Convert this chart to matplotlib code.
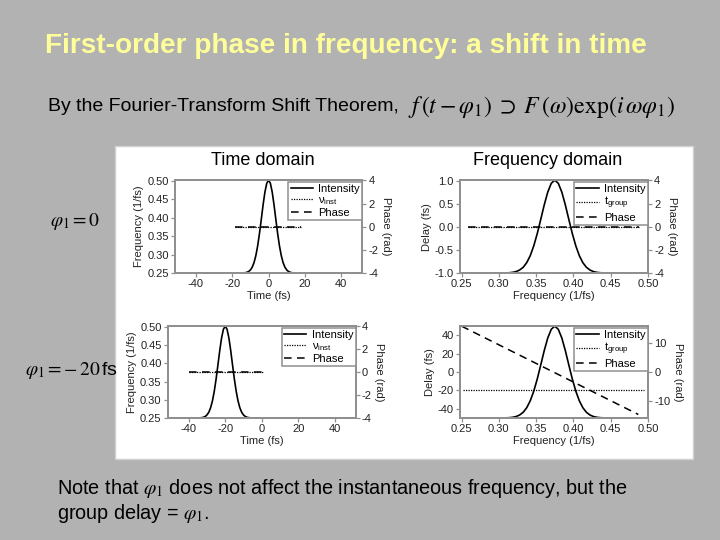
import numpy as np
import matplotlib.pyplot as plt
from matplotlib.patches import Rectangle
from matplotlib.lines import Line2D

plt.rcParams['font.family'] = ['Liberation Sans', 'DejaVu Sans']
plt.rcParams['mathtext.fontset'] = 'custom'
plt.rcParams['mathtext.rm'] = 'Liberation Sans'
plt.rcParams['mathtext.it'] = 'Liberation Sans:italic'
plt.rcParams['axes.unicode_minus'] = False

shape_offsets = list(range(-16, 17))
half_shape = [0.0001, 0.0004, 0.0011, 0.003, 0.0072, 0.016, 0.033, 0.0625,
              0.112, 0.187, 0.292, 0.425, 0.578, 0.735, 0.872, 0.966]
pulse_shape = half_shape + [1.0] + half_shape[::-1]

# first-order phase (group delay) for each row, fs
phi1 = [0, -20]
time_step = 1.0          # fs per shape unit
spec_center = 0.375      # 1/fs
spec_step = 0.0047       # 1/fs per shape unit

# time domain flat lines (v_inst at 0.375, phase at 0)
tline_x = [[-18.5, 18.0], [-40.0, 0.8]]
vinst = 0.375
# frequency domain lines
fline_x = [[0.258, 0.488], [0.252, 0.494]]
tgroup = [0, -20]
phase_x = [[0.258, 0.488], [0.25, 0.487]]
phase_y = [[0, 0], [15.7, -14.6]]

bg = '#b2b2b2'
fig = plt.figure(figsize=(7.2, 5.4), dpi=100, facecolor=bg)

fig.text(0.0625, 0.915, 'First-order phase in frequency: a shift in time',
         color='#ffff99', fontsize=20.1, fontweight='bold', va='center')
fig.text(0.066, 0.802, 'By the Fourier-Transform Shift Theorem,',
         fontsize=14, va='center')
fig.text(0.566, 0.802,
         r'$f\,(t-\varphi_1)\;\supset\;F\,(\omega)\mathrm{exp}(i\,\omega\varphi_1)$',
         fontsize=17.2, va='center', math_fontfamily='stix')
fig.text(0.07, 0.589, r'$\varphi_1 = 0$', fontsize=14, va='center',
         math_fontfamily='stix')
fig.text(0.035, 0.314, r'$\varphi_1 = -\,20\,$fs', fontsize=14, va='center',
         math_fontfamily='stix')
fig.text(0.079, 0.096,
         r'Note that $\varphi_1$ does not affect the instantaneous frequency, but the',
         fontsize=14.3, va='center', math_fontfamily='stix')
fig.text(0.079, 0.049, r'group delay = $\varphi_1$.', fontsize=14.3, va='center',
         math_fontfamily='stix')

fig.patches.append(Rectangle((0.1597, 0.15), 0.803, 0.58, transform=fig.transFigure,
                             facecolor='white', edgecolor='#d0d0d0', lw=1, zorder=-5))
fig.text(0.365, 0.702, 'Time domain', fontsize=13, ha='center', va='center')
fig.text(0.761, 0.702, 'Frequency domain', fontsize=13, ha='center', va='center')

positions = {
    (0, 0): [0.243, 0.4944, 0.26, 0.172],
    (0, 1): [0.639, 0.4944, 0.261, 0.172],
    (1, 0): [0.233, 0.226, 0.261, 0.170],
    (1, 1): [0.639, 0.226, 0.261, 0.170],
}

spine_col = '#909090'
txt_col = '#222222'
fs = 8


def style(ax):
    for s in ax.spines.values():
        s.set_color(spine_col)
        s.set_linewidth(1.3)
    ax.tick_params(direction='out', length=3, width=0.9, labelsize=fs,
                   color=spine_col, labelcolor=txt_col, pad=1.5)


for row in range(2):
    for col in range(2):
        ax = fig.add_axes(positions[(row, col)])
        tw = ax.twinx()
        if col == 0:
            xs = [phi1[row] + o * time_step for o in shape_offsets]
            xs = [-60] + xs + [60]
            ax.set_xlim(-51.5, 51.5)
            ax.set_xticks([-40, -20, 0, 20, 40])
            ylo, yhi = 0.25, 0.502
            ax.set_yticks([0.25, 0.30, 0.35, 0.40, 0.45, 0.50])
            ax.set_yticklabels(['%.2f' % v for v in ax.get_yticks()])
            ax.set_xlabel('Time (fs)', fontsize=fs, color=txt_col, labelpad=1)
            ax.set_ylabel('Frequency (1/fs)', fontsize=fs, color=txt_col, labelpad=2)
            lbl2 = r'$\mathrm{\nu}_{\mathrm{inst}}$'
            ax.plot(tline_x[row], [vinst, vinst], ls=(0, (1, 1)), color='k', lw=0.9)
            tw.plot(tline_x[row], [0, 0], ls=(0, (5, 3.5)), color='k', lw=1.1)
            tw.set_ylim(-4, 4.02)
            tw.set_yticks([-4, -2, 0, 2, 4])
        else:
            xs = [spec_center + o * spec_step for o in shape_offsets]
            xs = [0.2] + xs + [0.55]
            ax.set_xlim(0.248, 0.5)
            ax.set_xticks([0.25, 0.30, 0.35, 0.40, 0.45, 0.50])
            ax.set_xticklabels(['%.2f' % v for v in ax.get_xticks()])
            ax.set_xlabel('Frequency (1/fs)', fontsize=fs, color=txt_col, labelpad=1)
            ax.set_ylabel('Delay (fs)', fontsize=fs, color=txt_col, labelpad=2)
            lbl2 = r't$_{\mathrm{group}}$'
            if row == 0:
                ylo, yhi = -1.0, 1.01
                ax.set_yticks([-1.0, -0.5, 0.0, 0.5, 1.0])
                ax.set_yticklabels(['%.1f' % v for v in ax.get_yticks()])
                tw.set_ylim(-4, 4.02)
                tw.set_yticks([-4, -2, 0, 2, 4])
            else:
                ylo, yhi = -50, 50
                ax.set_yticks([-40, -20, 0, 20, 40])
                tw.set_ylim(-15.8, 15.7)
                tw.set_yticks([-10, 0, 10])
            ax.plot(fline_x[row], [tgroup[row]] * 2, ls=(0, (1, 1)), color='k', lw=0.9)
            tw.plot(phase_x[row], phase_y[row], ls=(0, (5, 3.5)), color='k', lw=1.1)
        ys = [ylo + (yhi - ylo) * v for v in [0] + pulse_shape + [0]]
        ax.plot(xs, ys, color='k', lw=1.2, clip_on=True)
        ax.set_ylim(ylo, yhi)
        style(ax)
        style(tw)
        tw.set_ylabel('Phase (rad)', fontsize=fs, color=txt_col, rotation=-90,
                      labelpad=9)
        handles = [Line2D([], [], color='k', lw=1.2),
                   Line2D([], [], color='k', lw=0.9, ls=(0, (1, 1))),
                   Line2D([], [], color='k', lw=1.1, ls=(0, (5, 3.5)))]
        leg = tw.legend(handles, ['Intensity', lbl2, 'Phase'], loc='upper right',
                        bbox_to_anchor=(1.0, 0.985),
                        fontsize=8, fancybox=False, framealpha=1,
                        edgecolor=spine_col, borderaxespad=0.0, handlelength=2.0,
                        labelspacing=0.12, borderpad=0.2, handletextpad=0.5)
        leg.get_frame().set_linewidth(1.1)

fig.savefig('out.png', dpi=100, facecolor=bg)
